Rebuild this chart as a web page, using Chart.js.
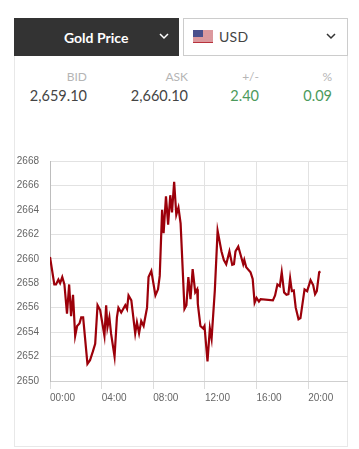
<!DOCTYPE html>
<html>
<head>
<meta charset="utf-8">
<title>Gold Price</title>
<script src="https://cdn.jsdelivr.net/npm/chart.js@4"></script>
<style>
    html, body { margin: 0; padding: 0; background: #fff; overflow: hidden; }
    body { width: 359px; height: 449px; position: relative; font-family: Lato, sans-serif; }
    .card { position: absolute; left: 14px; top: 55px; width: 334px; height: 392px; box-sizing: border-box;
            border: 1px solid #e8e8e8; border-top: 0; }
    .metal { position: absolute; left: 14px; top: 18px; width: 165px; height: 38px; background: #333;
             color: #fff; font-weight: 700; font-size: 14px; line-height: 39px; }
    .metal span { position: absolute; left: 50px; }
    .currency { position: absolute; left: 183px; top: 18px; width: 165px; height: 38px; box-sizing: border-box;
                border: 1px solid #ccc; color: #444; font-size: 14px; line-height: 36px; }
    .currency span { position: absolute; left: 35px; letter-spacing: .3px; }
    svg.arrow { position: absolute; top: 15px; fill: none; stroke-width: 1.5; }
    .metal .arrow { left: 145px; stroke: #fff; }
    .currency .arrow { left: 142px; top: 14px; stroke: #333; }
    svg.flag { position: absolute; left: 9px; top: 11px; }
    .cell { position: absolute; text-align: right; white-space: nowrap; }
    .head { top: 69px; font-size: 12px; color: #b5b5b5; }
    .val { top: 87px; font-size: 14.5px; color: #444; }
    .up { color: #4c9a5c; }
    #chart { position: absolute; left: 14px; top: 144px; }
</style>
</head>
<body>
<div class="card"></div>
<div class="metal"><span>Gold Price</span>
    <svg class="arrow" width="10" height="7"><path d="M1 1l4 4 4-4"/></svg>
</div>
<div class="currency">
    <svg class="flag" width="20" height="13" viewBox="0 0 20 13">
        <rect width="20" height="13" fill="#fff"/>
        <path d="M0 1h20M0 3h20M0 5h20M0 7h20M0 9h20M0 11h20M0 12.5h20" stroke="#b8323c" stroke-width="1"/>
        <rect width="10" height="7" fill="#4a4f8c"/>
    </svg>
    <span>USD</span>
    <svg class="arrow" width="10" height="7"><path d="M1 1l4 4 4-4"/></svg>
</div>
<div class="cell head" style="right:272px">BID</div>
<div class="cell head" style="right:171px">ASK</div>
<div class="cell head" style="right:100px">+/-</div>
<div class="cell head" style="right:27px">%</div>
<div class="cell val" style="right:272px">2,659.10</div>
<div class="cell val" style="right:171px">2,660.10</div>
<div class="cell val up" style="right:100px">2.40</div>
<div class="cell val up" style="right:27px">0.09</div>
<canvas id="chart" width="334" height="263"></canvas>

<script>
// minutes since 00:00
const times = [0, 20, 28, 39, 47, 57, 67, 79, 89, 98, 107, 117, 126, 137, 145, 154, 174, 186, 199, 210,
    221, 233, 253, 261, 267, 276, 284, 300, 311, 318, 331, 350, 358, 365, 378, 396, 404, 414, 424, 435,
    451, 458, 471, 490, 502, 510, 521, 528, 539, 549, 559, 567, 577, 587, 597, 607, 625, 634, 643, 653,
    663, 675, 684, 687, 699, 712, 718, 732, 743, 751, 766, 779, 797, 808, 819, 834, 847, 855, 862, 875,
    898, 903, 912, 932, 942, 951, 960, 971, 979, 1036, 1046, 1057, 1068, 1077, 1088, 1099, 1108, 1116, 1124, 1133,
    1142, 1155, 1164, 1183, 1195, 1211, 1223, 1232, 1240, 1251, 1257];
const prices = [2660.15, 2657.9, 2657.9, 2658.3, 2658.0, 2658.5, 2657.9, 2655.5, 2657.9, 2655.3, 2657.05, 2653.7, 2654.5, 2654.7, 2655.2, 2655.2, 2651.4, 2651.7, 2652.4, 2653.05,
    2656.2, 2655.8, 2653.7, 2656.2, 2654.4, 2655.2, 2653.85, 2652.0, 2655.2, 2656.0, 2655.6, 2656.2, 2655.9, 2657.0, 2656.6, 2653.9, 2654.8, 2653.9, 2654.9, 2654.5,
    2656.0, 2658.5, 2659.0, 2657.0, 2657.5, 2658.6, 2664.0, 2662.1, 2665.1, 2662.8, 2665.2, 2663.8, 2666.3, 2663.6, 2664.2, 2662.9, 2655.9, 2656.2, 2658.5, 2656.7,
    2659.15, 2657.25, 2657.5, 2656.3, 2654.5, 2654.3, 2654.5, 2651.6, 2654.3, 2653.45, 2657.4, 2662.3, 2660.6, 2659.9, 2659.55, 2660.6, 2659.5, 2659.55, 2660.6, 2661.0,
    2659.55, 2659.9, 2659.3, 2658.9, 2658.35, 2656.4, 2656.8, 2656.5, 2656.7, 2656.6, 2657.0, 2657.9, 2657.75, 2658.9, 2657.25, 2657.05, 2657.1, 2658.4, 2657.35, 2657.4,
    2656.0, 2655.05, 2655.15, 2657.5, 2657.35, 2658.25, 2657.85, 2657.1, 2657.35, 2658.9, 2658.95];
const timeTicks = ['00:00', '04:00', '08:00', '12:00', '16:00', '20:00'];
const timeTickValues = [0, 240, 480, 720, 960, 1200];

const ctx = document.getElementById('chart').getContext('2d');
new Chart(ctx, {
    type: 'line',
    data: {
        datasets: [{
            data: times.map((t, i) => ({x: t, y: prices[i]})),
            borderColor: '#9c000a',
            borderWidth: 2.2,
            pointRadius: 0,
            tension: 0,
            fill: false
        }]
    },
    options: {
        responsive: false,
        animation: false,
        layout: {padding: {left: 0, right: 0, top: 0, bottom: 0}},
        plugins: {legend: {display: false}, tooltip: {enabled: false}},
        scales: {
            x: {
                type: 'linear',
                min: 0,
                max: 1385,
                grid: {color: '#e2e2e2', tickLength: 8, tickColor: '#dcdcdc'},
                border: {color: '#cfcfcf'},
                // fixed 4 hour ticks
                afterBuildTicks: s => { s.ticks = timeTickValues.map(v => ({value: v})); },
                ticks: {
                    autoSkip: false,
                    padding: 3,
                    align: 'start',
                    maxRotation: 0,
                    color: '#666',
                    font: {family: 'Liberation Sans', size: 10},
                    callback: v => timeTicks[timeTickValues.indexOf(v)]
                }
            },
            y: {
                min: 2650,
                max: 2668,
                grid: {color: '#e2e2e2', tickLength: 0},
                border: {color: '#bdbdbd'},
                ticks: {
                    stepSize: 2,
                    padding: 11,
                    color: '#666',
                    font: {family: 'Liberation Sans', size: 10},
                    callback: v => String(v)
                },
                afterFit: s => { s.width = 36; }
            }
        }
    }
});
</script>
</body>
</html>
